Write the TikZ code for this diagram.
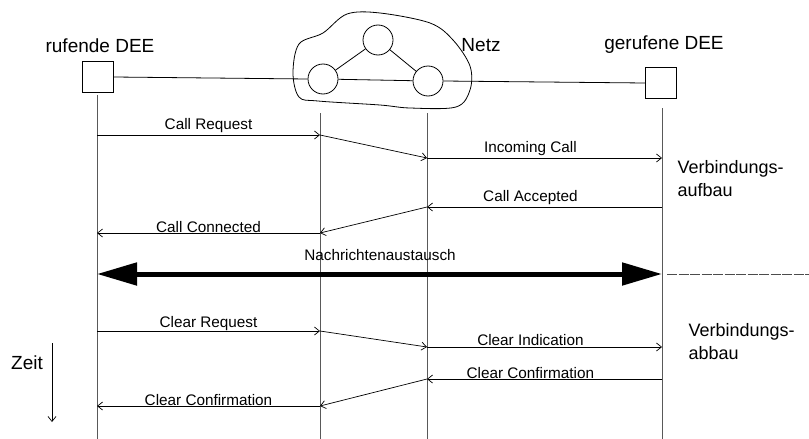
\documentclass[tikz,border=0pt]{standalone}
\usepackage{fontspec}
\setmainfont{Liberation Sans}
\usetikzlibrary{arrows.meta}

\begin{document}
\begin{tikzpicture}[x=1pt,y=-1pt,>={Straight Barb[length=5pt,width=8pt]},
station/.style={draw,line width=0.8pt,minimum size=31pt,inner sep=0pt},
knoten/.style={draw,circle,line width=0.8pt,minimum size=30pt,inner sep=0pt},
kopf/.style={font=\fontsize{19}{19}\selectfont},
phase/.style={font=\fontsize{18}{23}\selectfont,align=left,anchor=north west},
lebenslinie/.style={line width=0.4pt,black!65},
nachricht/.style={line width=0.7pt,->},
msg/.style={font=\fontsize{15.3}{15.3}\selectfont,inner sep=1.5pt,above}
]
\useasboundingbox (0,0) rectangle (809,439);

% The stations
\node[station] (rufende) at (98,77) {};
\node[station] (gerufene) at (661,83) {};
\node[kopf] (tr) at (100,46) {rufende DEE};
\node[kopf] (tg) at (664,45) {gerufene DEE};

% The network
\draw[line width=0.8pt] plot[smooth cycle,tension=0.55] coordinates {
(293,73) (299,97) (318,101) (380,105) (410,108) (456,107) (470,90)
(470,66) (453,40) (430,23) (380,13) (347,14) (323,33) (299,44)};
\node[knoten] (kn1) at (323,79) {};
\node[knoten] (kn2) at (378,40) {};
\node[knoten] (kn3) at (428,81) {};
\node[kopf] (netz) at (481,45) {Netz};
\draw[line width=0.8pt] (kn1) -- (kn2) -- (kn3) -- (kn1);
\draw[line width=0.8pt] (rufende.east) -- (kn1.west);
\draw[line width=0.8pt] (kn3.east) -- (gerufene.west);

% The lifelines
\foreach \n/\x/\y in {A/97/95, B/320/113, C/427/113, D/662/108}
{
\coordinate (\n0) at (\x,\y);
\coordinate (\n9) at (\x,439);
\draw[lebenslinie] (\n0) -- (\n9);
}

% The messages
\foreach \n/\x/\y in {a1/97/135, b1/320/135, c2/427/158, d2/662/158,
d3/662/207, c3/427/207, b4/320/233, a4/97/233,
a5/97/331, b5/320/331, c6/427/347, d6/662/347,
d7/662/379, c7/427/379, b8/320/406, a8/97/406}
\coordinate (\n) at (\x,\y);

\draw[nachricht] (a1) -- node[msg] {Call Request} (b1);
\draw[nachricht] (b1) -- (c2);
\draw[nachricht] (c2) -- node[msg,pos=0.44] {Incoming Call} (d2);
\draw[nachricht] (d3) -- node[msg,pos=0.56] {Call Accepted} (c3);
\draw[nachricht] (c3) -- (b4);
\draw[nachricht] (b4) -- node[msg,inner sep=0pt] {Call Connected} (a4);

\draw[nachricht] (a5) -- node[msg,inner sep=0pt] {Clear Request} (b5);
\draw[nachricht] (b5) -- (c6);
\draw[nachricht] (c6) -- node[msg,pos=0.44] {Clear Indication} (d6);
\draw[nachricht] (d7) -- node[msg,pos=0.56,inner sep=0.5pt] {Clear Confirmation} (c7);
\draw[nachricht] (c7) -- (b8);
\draw[nachricht] (b8) -- node[msg,inner sep=0.5pt] {Clear Confirmation} (a8);

% The data exchange
\coordinate (ma) at (97,274);
\coordinate (md) at (662,274);
\coordinate (rand) at (809,274);
\draw[line width=5pt,{Triangle[length=40pt,width=22pt]}-{Triangle[length=40pt,width=22pt]}] (ma) -- (md);
\node[msg,above=0pt] (nx) at (380,262) {Nachrichtenaustausch};
\draw[line width=0.5pt,black!70,dash pattern=on 10pt off 1.5pt] ([xshift=5pt]md) -- (rand);

% The phases
\node[phase] (auf) at (674,157) {Verbindungs-\\aufbau};
\node[phase] (ab) at (685,320) {Verbindungs-\\abbau};

% The time axis
\coordinate (z1) at (52,343);
\coordinate (z2) at (52,422);
\draw[line width=0.7pt,->] (z1) -- (z2);
\node[kopf] (zeit) at (27,363) {Zeit};
\end{tikzpicture}
\end{document}
